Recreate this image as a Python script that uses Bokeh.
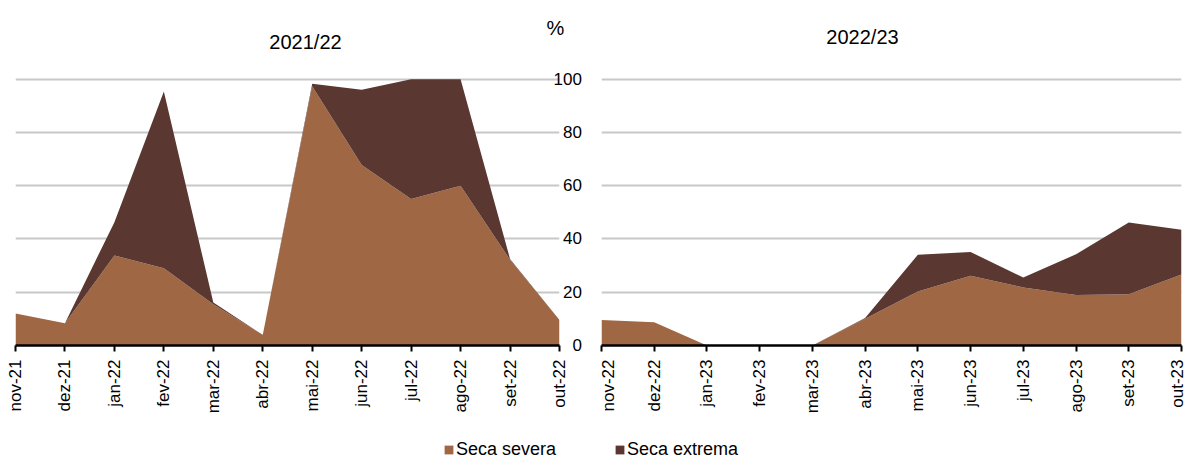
import math
from bokeh.plotting import figure
from bokeh.layouts import column, row
from bokeh.models import (ColumnDataSource, Range1d, FixedTicker, Label, Legend, LegendItem)
from bokeh.embed import file_html
from bokeh.resources import INLINE

# ---------------- data ----------------
months_1 = ["nov-21", "dez-21", "jan-22", "fev-22", "mar-22", "abr-22",
            "mai-22", "jun-22", "jul-22", "ago-22", "set-22", "out-22"]
severa_1 = [12.0, 8.4, 33.8, 29.0, 15.5, 4.0, 97.3, 67.8, 55.0, 60.0, 32.2, 9.6]
extrema_1 = [0.0, 0.0, 12.5, 66.4, 0.6, 0.0, 1.0, 28.2, 45.0, 40.0, 0.3, 0.0]

months_2 = ["nov-22", "dez-22", "jan-23", "fev-23", "mar-23", "abr-23",
            "mai-23", "jun-23", "jul-23", "ago-23", "set-23", "out-23"]
severa_2 = [9.6, 8.7, 0.0, 0.0, 0.0, 10.0, 20.3, 26.2, 21.8, 19.0, 19.2, 26.7]
extrema_2 = [0.0, 0.0, 0.0, 0.0, 0.0, 0.3, 13.8, 8.9, 3.7, 15.3, 27.0, 16.8]

titles = ["2021/22", "2022/23"]
series_names = ["Seca severa", "Seca extrema"]
y_ticks = [0, 20, 40, 60, 80, 100]
unit_label = "%"

# ---------------- style ----------------
FONT = "Liberation Sans"
C_SEVERA = "#A06745"
C_EXTREMA = "#5A3831"
GRID = "#C8C8C8"
colors = [C_SEVERA, C_EXTREMA]
FIG_SPACE = "\u2007"
HEADER_H = 69
TOP_PAD = 7
Y_MAX = 101          # a little head-room so the 100 grid line is drawn
FRAME_H = 269


def make_panel(months, severa, extrema, frame_w, mb_left, mb_right, right_axis):
    n = len(months)
    src = ColumnDataSource(dict(x=list(range(n)), severa=severa, extrema=extrema))
    p = figure(frame_width=frame_w, frame_height=FRAME_H,
               min_border_left=mb_left, min_border_right=mb_right,
               min_border_top=TOP_PAD, min_border_bottom=75,
               x_range=Range1d(0, n - 1), y_range=Range1d(0, Y_MAX),
               output_backend="svg", toolbar_location=None,
               y_axis_location="right" if right_axis else None)
    p.outline_line_color = None

    p.varea_stack(["severa", "extrema"], x="x", color=colors, source=src)

    xa = p.xaxis[0]
    xa.ticker = FixedTicker(ticks=list(range(n)))
    xa.major_label_overrides = {i: m for i, m in enumerate(months)}
    xa.major_label_orientation = math.pi / 2
    xa.major_label_text_font = FONT
    xa.major_label_text_font_size = "17px"
    xa.major_label_text_color = "black"
    xa.major_label_standoff = 8
    xa.axis_line_color = "black"
    xa.axis_line_width = 2.5
    xa.major_tick_line_color = "black"
    xa.major_tick_line_width = 2
    xa.major_tick_out = 6
    xa.major_tick_in = 0
    xa.minor_tick_line_color = None

    p.xgrid.visible = False
    p.ygrid.ticker = FixedTicker(ticks=y_ticks)
    p.ygrid.grid_line_color = GRID
    p.ygrid.grid_line_width = 1.8

    if right_axis:
        ya = p.yaxis[0]
        ya.ticker = FixedTicker(ticks=y_ticks)
        # right-align the numbers with figure spaces (digit-wide)
        width = max(len(str(v)) for v in y_ticks)
        ya.major_label_overrides = {v: str(v).rjust(width, FIG_SPACE) for v in y_ticks}
        ya.major_tick_line_color = None
        ya.minor_tick_line_color = None
        ya.axis_line_color = None
        ya.major_label_text_font = FONT
        ya.major_label_text_font_size = "17px"
        ya.major_label_text_color = "black"
        ya.major_label_standoff = -12
    return p


p1 = make_panel(months_1, severa_1, extrema_1, 544, 15, 39, True)
p2 = make_panel(months_2, severa_2, extrema_2, 580, 3, 5, False)

# ---------------- header strip (titles and unit) ----------------
TOTAL_W = 1186
ph = figure(width=TOTAL_W, height=HEADER_H, min_border=0, output_backend="svg",
            toolbar_location=None, x_range=Range1d(0, 1), y_range=Range1d(0, 1),
            x_axis_location=None, y_axis_location=None)
ph.outline_line_color = None
ph.grid.visible = False
for txt, xs, ys in [(titles[0], 305, 28), (titles[1], 862, 33)]:
    ph.add_layout(Label(x=xs, y=ys, x_units="screen", y_units="screen", text=txt,
                        text_align="center", text_baseline="alphabetic",
                        text_font=FONT, text_font_size="20px", text_color="black"))
ph.add_layout(Label(x=555, y=42, x_units="screen", y_units="screen", text=unit_label,
                    text_align="center", text_baseline="alphabetic",
                    text_font=FONT, text_font_size="20px", text_color="black"))

# ---------------- legend strip ----------------
pl = figure(width=TOTAL_W, height=38, min_border=0, output_backend="svg",
            toolbar_location=None, x_range=Range1d(0, 11), y_range=Range1d(-2, -1),
            x_axis_location=None, y_axis_location=None)
pl.outline_line_color = None
pl.grid.visible = False
leg_src = ColumnDataSource(dict(x=list(range(len(months_1))), severa=severa_1, extrema=extrema_1))
leg_renderers = pl.varea_stack(["severa", "extrema"], x="x", color=colors, source=leg_src)
items = [LegendItem(label=name, renderers=[r]) for name, r in zip(series_names, leg_renderers)]
leg = Legend(items=items, orientation="horizontal", location=(443, -2),
             glyph_width=11, glyph_height=11, label_standoff=2, spacing=58,
             padding=0, margin=0, border_line_color=None, background_fill_alpha=0,
             label_text_font=FONT, label_text_font_size="18px", label_text_color="black")
pl.add_layout(leg, "center")

layout = column(ph, row(p1, p2, spacing=0), pl, spacing=0)

open("out.html", "w").write(file_html(layout, INLINE))
